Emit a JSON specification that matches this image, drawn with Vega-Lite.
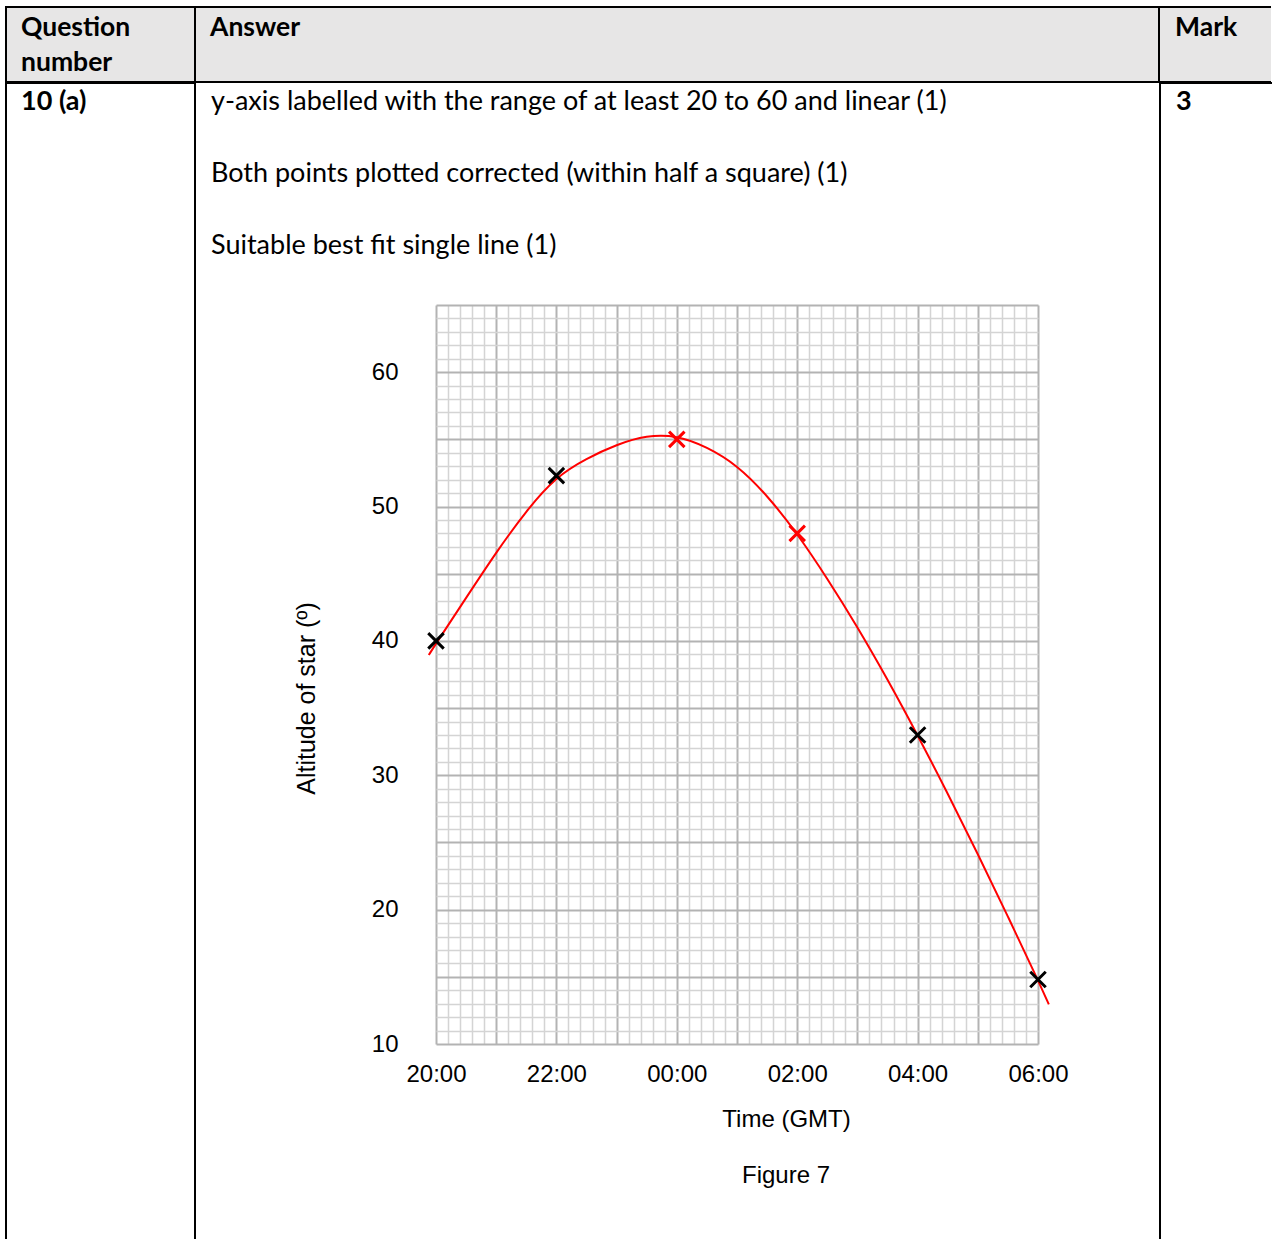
{
  "$schema": "https://vega.github.io/schema/vega-lite/v6.json",
  "background": "white",
  "padding": {"left": 5, "top": 6, "right": 0, "bottom": 0},
  "spacing": -2,
  "config": {
    "font": "Liberation Sans",
    "view": {"stroke": null},
    "title": {"orient": "top", "anchor": "start", "frame": "group", "baseline": "top", "color": "#000000", "font": "Lato", "fontSize": 27, "dx": 15}
  },
  "datasets": {
    "curve": [
      {"hour": 19.88, "altitude": 38.95},
      {"hour": 20.0, "altitude": 39.8},
      {"hour": 20.5, "altitude": 43.2},
      {"hour": 21.0, "altitude": 46.6},
      {"hour": 21.5, "altitude": 49.7},
      {"hour": 22.0, "altitude": 52.25},
      {"hour": 22.5, "altitude": 53.58},
      {"hour": 23.0, "altitude": 54.62},
      {"hour": 23.5, "altitude": 55.3},
      {"hour": 24.0, "altitude": 55.3},
      {"hour": 24.5, "altitude": 54.45},
      {"hour": 25.0, "altitude": 53.1},
      {"hour": 25.5, "altitude": 50.85},
      {"hour": 26.0, "altitude": 48.0},
      {"hour": 26.5, "altitude": 44.65},
      {"hour": 27.0, "altitude": 41.05},
      {"hour": 27.5, "altitude": 37.15},
      {"hour": 28.0, "altitude": 33.0},
      {"hour": 28.5, "altitude": 28.65},
      {"hour": 29.0, "altitude": 24.15},
      {"hour": 29.5, "altitude": 19.5},
      {"hour": 30.0, "altitude": 14.75},
      {"hour": 30.18, "altitude": 12.95}
    ],
    "points": [
      {"hour": 20, "altitude": 40, "source": "given"},
      {"hour": 22, "altitude": 52.3, "source": "given"},
      {"hour": 24, "altitude": 55, "source": "plotted"},
      {"hour": 26, "altitude": 48, "source": "plotted"},
      {"hour": 28, "altitude": 33, "source": "given"},
      {"hour": 30, "altitude": 14.8, "source": "given"}
    ]
  },
  "vconcat": [
    {
      "hconcat": [
        {
          "width": 189, "height": 75,
          "data": {"values": []}, "mark": "point",
          "view": {"fill": "#e7e6e6", "stroke": "#000000", "strokeWidth": 2},
          "title": {"text": ["Question", "number"], "offset": -69, "lineHeight": 35, "fontWeight": "bold", "fontSize": 26.5}
        },
        {
          "width": 964, "height": 75,
          "data": {"values": []}, "mark": "point",
          "view": {"fill": "#e7e6e6", "stroke": "#000000", "strokeWidth": 2},
          "title": {"text": "Answer", "offset": -34, "fontWeight": "bold", "fontSize": 26.5}
        },
        {
          "width": 112, "height": 75,
          "data": {"values": []}, "mark": "point",
          "view": {"fill": "#e7e6e6", "stroke": "#000000", "strokeWidth": 2, "strokeDash": [112, 75, 187]},
          "title": {"text": "Mark", "offset": -34, "dx": 16, "fontWeight": "bold", "fontSize": 26.5}
        }
      ],
      "spacing": 0,
      "bounds": "flush"
    },
    {
      "hconcat": [
        {
          "width": 189, "height": 1156,
          "data": {"values": []}, "mark": "point",
          "view": {"stroke": "#000000", "strokeWidth": 2, "strokeDash": [1345, 189, 1156]},
          "title": {"text": "10 (a)", "offset": -33, "fontWeight": "bold"}
        },
        {
          "vconcat": [
            {
              "width": 964, "height": 222,
              "data": {"values": []}, "mark": "point",
              "view": {"stroke": null},
              "title": {
                "text": [
                  "y-axis labelled with the range of at least 20 to 60 and linear (1)",
                  "Both points plotted corrected (within half a square) (1)",
                  "Suitable best fit single line (1)"
                ],
                "offset": -177, "lineHeight": 72, "fontWeight": "normal"
              }
            },
            {
              "hconcat": [
                {
                  "width": 240, "height": 739,
                  "data": {"values": []}, "mark": "point",
                  "view": {"stroke": null}
                },
                {
                  "width": 602, "height": 739,
                  "view": {"stroke": null},
                  "title": {"text": "Figure 7", "orient": "bottom", "anchor": "middle", "frame": "group", "dx": 49, "offset": 52, "baseline": "alphabetic", "font": "Liberation Sans", "fontSize": 24, "fontWeight": "normal", "color": "#000000"},
                  "encoding": {
                    "x": {
                      "field": "hour", "type": "quantitative",
                      "scale": {"domain": [20, 30], "nice": false, "zero": false},
                      "axis": {
                        "orient": "bottom",
                        "title": "Time (GMT)",
                        "titleFont": "Liberation Sans",
                        "titleFontSize": 24, "titleFontWeight": "normal", "titleColor": "#000000",
                        "titleX": 350, "titleY": 82, "titleBaseline": "alphabetic", "titleAlign": "center",
                        "tickCount": 50,
                        "labelExpr": "datum.value % 2 === 0 ? (datum.value % 24 < 10 ? '0' : '') + (datum.value % 24) + ':00' : ''",
                        "labelFont": "Liberation Sans",
                        "labelFontSize": {"condition": {"test": "datum.value % 2 !== 0", "value": 0}, "value": 24},
                        "labelColor": "#000000", "labelPadding": 18,
                        "labelOverlap": false, "labelFlush": false, "labelBound": false,
                        "ticks": false, "tickSize": 0, "domain": false,
                        "grid": true, "gridOpacity": 1,
                        "gridColor": {"condition": {"test": "datum.value % 1 === 0", "value": "#b3b3b3"}, "value": "#d4d4d4"},
                        "gridWidth": {"condition": {"test": "datum.value % 1 === 0", "value": 2}, "value": 1.5}
                      }
                    },
                    "y": {
                      "field": "altitude", "type": "quantitative",
                      "scale": {"domain": [10, 65], "nice": false, "zero": false},
                      "axis": {
                        "orient": "left",
                        "title": "Altitude of star (º)",
                        "titleFont": "Liberation Sans",
                        "titleFontSize": 25, "titleFontWeight": "normal", "titleColor": "#000000",
                        "titleX": -122, "titleY": 393, "titleBaseline": "alphabetic", "titleAlign": "center", "titleAngle": 270,
                        "tickCount": 55,
                        "labelExpr": "datum.value % 10 === 0 && datum.value < 65 ? datum.label : ''",
                        "labelFont": "Liberation Sans",
                        "labelFontSize": {"condition": {"test": "datum.value % 10 !== 0 || datum.value >= 65", "value": 0}, "value": 24},
                        "labelColor": "#000000", "labelPadding": 38,
                        "labelOverlap": false, "labelFlush": false, "labelBound": false,
                        "ticks": false, "tickSize": 0, "domain": false,
                        "grid": true, "gridOpacity": 1,
                        "gridColor": {"condition": {"test": "datum.value % 5 === 0", "value": "#b3b3b3"}, "value": "#d4d4d4"},
                        "gridWidth": {"condition": {"test": "datum.value % 5 === 0", "value": 2}, "value": 1.5}
                      }
                    }
                  },
                  "layer": [
                    {
                      "data": {"name": "curve"},
                      "mark": {"type": "line", "color": "#ff0000", "strokeWidth": 2, "interpolate": "basis"}
                    },
                    {
                      "data": {"name": "points"},
                      "mark": {"type": "point", "shape": "M-1,-1L1,1M-1,1L1,-1", "size": 240, "strokeWidth": 3, "filled": false, "opacity": 1},
                      "encoding": {
                        "color": {"field": "source", "type": "nominal", "scale": {"domain": ["given", "plotted"], "range": ["#000000", "#ff0000"]}, "legend": null}
                      }
                    }
                  ]
                },
                {
                  "width": 122, "height": 739,
                  "data": {"values": []}, "mark": "point",
                  "view": {"stroke": null}
                }
              ],
              "spacing": 0,
              "bounds": "flush"
            }
          ],
          "spacing": -1
        },
        {
          "width": 112, "height": 1156,
          "data": {"values": []}, "mark": "point",
          "view": {"stroke": "#000000", "strokeWidth": 2, "strokeDash": [112, 1268, 1156]},
          "title": {"text": "3", "offset": -33, "dx": 16, "fontWeight": "bold"}
        }
      ],
      "spacing": -1
    }
  ]
}
